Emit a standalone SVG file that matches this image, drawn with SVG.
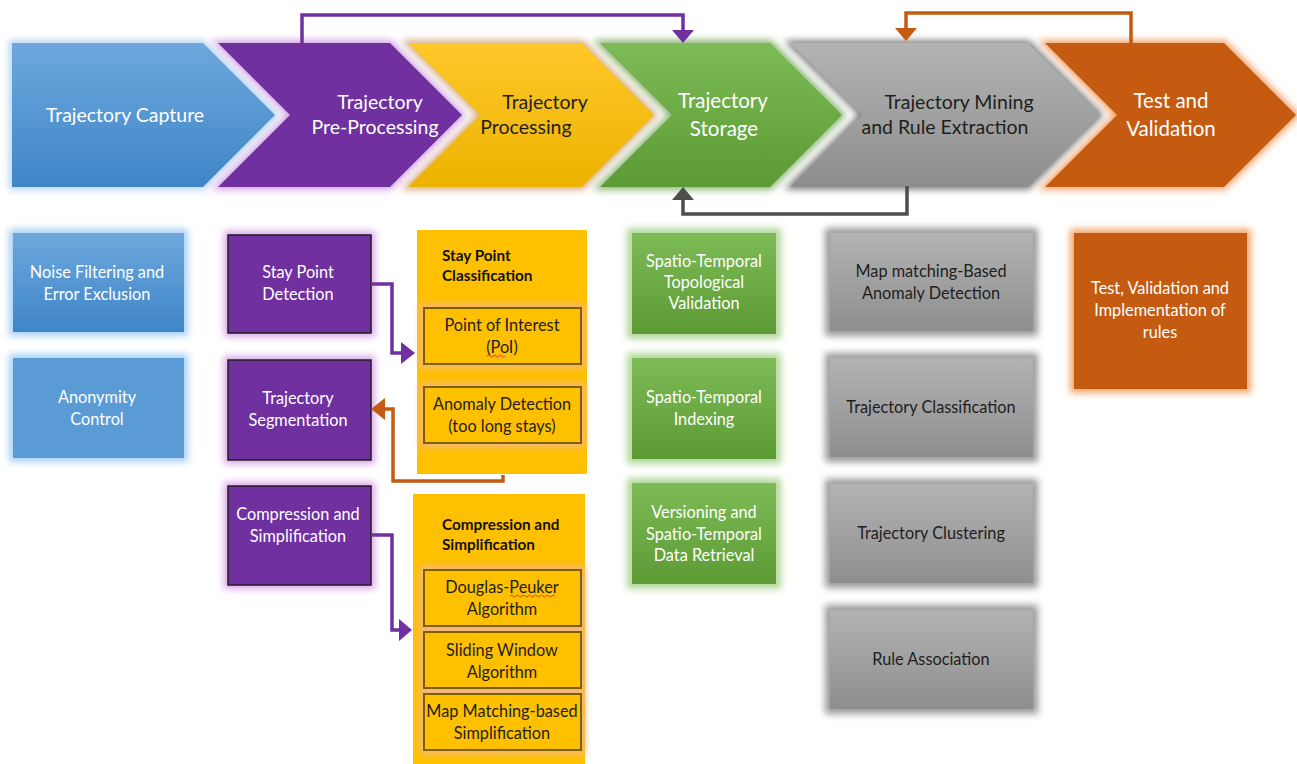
<svg xmlns="http://www.w3.org/2000/svg" width="1297" height="764" viewBox="0 0 1297 764">
<defs>
<filter id="blur" x="-20%" y="-20%" width="140%" height="140%"><feGaussianBlur stdDeviation="3.5"/></filter>
<linearGradient id="gBlue" x1="0" y1="0" x2="0" y2="1"><stop offset="0" stop-color="#6ea7dd"/><stop offset="1" stop-color="#3e86c7"/></linearGradient>
<linearGradient id="gYel" x1="0" y1="0" x2="0" y2="1"><stop offset="0" stop-color="#ffc72a"/><stop offset="1" stop-color="#ecb300"/></linearGradient>
<linearGradient id="gGrn" x1="0" y1="0" x2="0" y2="1"><stop offset="0" stop-color="#7cbb55"/><stop offset="1" stop-color="#5c9b34"/></linearGradient>
<linearGradient id="gGry" x1="0" y1="0" x2="0" y2="1"><stop offset="0" stop-color="#b3b3b3"/><stop offset="1" stop-color="#8e8e8e"/></linearGradient>
<style>
text{font-family:Lato,"Open Sans","Liberation Sans",sans-serif;text-anchor:middle}
.ch{font-size:19.5px}
.big{font-size:20.5px}
.bx{font-size:16.3px}
.w{fill:#ffffff}
.k{fill:#1e1e1e}
.ttl{font-size:15.3px;font-weight:bold;text-anchor:start;fill:#111}
.glow{filter:url(#blur)}
.inner{fill:#ffc000;stroke:#7f6000;stroke-width:2}
.conn{fill:none;stroke-width:3.5;stroke-linejoin:miter}
</style>
</defs>
<rect width="1297" height="764" fill="#ffffff"/>

<g id="chevron-capture">
<path class="glow" d="M12,43 H203 L275,115 L203,187 H12 Z" fill="#b9d6f1" stroke="#b9d6f1" stroke-width="6"/>
<path d="M12,43 H203 L275,115 L203,187 H12 Z" fill="url(#gBlue)"/>
<text class="ch w" x="125" y="122">Trajectory Capture</text>
</g>
<g id="chevron-preprocessing">
<path class="glow" d="M218,43 H390 L462,115 L390,187 H218 L290,115 Z" fill="#d5a6e6" stroke="#d5a6e6" stroke-width="6"/>
<path d="M218,43 H390 L462,115 L390,187 H218 L290,115 Z" fill="#7030a0"/>
<text class="ch w" x="380" y="109">Trajectory</text>
<text class="ch w" x="375" y="134">Pre-Processing</text>
</g>
<g id="chevron-processing">
<path class="glow" d="M408,43 H582 L654,115 L582,187 H408 L480,115 Z" fill="#d9b08a" stroke="#d9b08a" stroke-width="6"/>
<path d="M408,43 H582 L654,115 L582,187 H408 L480,115 Z" fill="url(#gYel)"/>
<text class="ch k" x="545" y="109">Trajectory</text>
<text class="ch k" x="526" y="134">Processing</text>
</g>
<g id="chevron-storage">
<path class="glow" d="M600,43 H770 L842,115 L770,187 H600 L672,115 Z" fill="#8fb877" stroke="#8fb877" stroke-width="6"/>
<path d="M600,43 H770 L842,115 L770,187 H600 L672,115 Z" fill="url(#gGrn)"/>
<text class="big w" x="723" y="108">Trajectory</text>
<text class="big w" x="724" y="136">Storage</text>
</g>
<g id="chevron-mining">
<path class="glow" d="M790,43 H1028 L1100,115 L1028,187 H790 L862,115 Z" fill="#7a7a7a" stroke="#7a7a7a" stroke-width="5"/>
<path d="M790,43 H1028 L1100,115 L1028,187 H790 L862,115 Z" fill="url(#gGry)"/>
<text class="ch k" x="959" y="109">Trajectory Mining</text>
<text class="ch k" x="945" y="134">and Rule Extraction</text>
</g>
<g id="chevron-test">
<path class="glow" d="M1045,43 H1224 L1296,115 L1224,187 H1045 L1117,115 Z" fill="#f1a46c" stroke="#f1a46c" stroke-width="6"/>
<path d="M1045,43 H1224 L1296,115 L1224,187 H1045 L1117,115 Z" fill="#c55a11"/>
<text class="big w" x="1171" y="108">Test and</text>
<text class="big w" x="1171" y="136">Validation</text>
</g>

<g id="box-noise">
<rect class="glow" x="9" y="229" width="179" height="107" fill="#a9d0f5"/>
<rect x="13" y="233" width="171" height="99" fill="url(#gBlue)"/>
<text class="bx w" x="97" y="278">Noise Filtering and</text>
<text class="bx w" x="97" y="300">Error Exclusion</text>
</g>
<g id="box-anonymity">
<rect class="glow" x="9" y="354" width="179" height="108" fill="#a9d0f5"/>
<rect x="13" y="358" width="171" height="100" fill="#5b9bd5"/>
<text class="bx w" x="97" y="403">Anonymity</text>
<text class="bx w" x="97" y="425">Control</text>
</g>

<g id="box-staypoint">
<rect class="glow" x="224" y="231" width="151" height="106" fill="#d9a8e8"/>
<rect x="228" y="235" width="143" height="98" fill="#7030a0" stroke="#1f1f1f" stroke-width="1.5"/>
<text class="bx w" x="298" y="278">Stay Point</text>
<text class="bx w" x="298" y="300">Detection</text>
</g>
<g id="box-segmentation">
<rect class="glow" x="224" y="356" width="151" height="108" fill="#d9a8e8"/>
<rect x="228" y="360" width="143" height="100" fill="#7030a0" stroke="#1f1f1f" stroke-width="1.5"/>
<text class="bx w" x="298" y="404">Trajectory</text>
<text class="bx w" x="298" y="426">Segmentation</text>
</g>
<g id="box-compression">
<rect class="glow" x="224" y="482" width="151" height="107" fill="#d9a8e8"/>
<rect x="228" y="486" width="143" height="99" fill="#7030a0" stroke="#1f1f1f" stroke-width="1.5"/>
<text class="bx w" x="298" y="520">Compression and</text>
<text class="bx w" x="298" y="542">Simplification</text>
</g>

<g id="box-staypoint-classification">
<rect x="417" y="230" width="170" height="244" fill="#ffc000"/>
<text class="ttl" x="442" y="261">Stay Point</text>
<text class="ttl" x="442" y="281">Classification</text>
<g id="box-poi">
<rect class="glow" x="420" y="304" width="165" height="64" fill="#f4b77e"/>
<rect class="inner" x="424" y="308" width="157" height="56"/>
<text class="bx k" x="502" y="331">Point of Interest</text>
<text class="bx k" x="502" y="353">(PoI)</text>
<path d="M487,356 q1.5,-2 3,0 t3,0 t3,0 t3,0 t3,0 t3,0" fill="none" stroke="#e03030" stroke-width="0.9"/>
</g>
<g id="box-anomaly">
<rect class="glow" x="420" y="383" width="165" height="64" fill="#f4b77e"/>
<rect class="inner" x="424" y="387" width="157" height="56"/>
<text class="bx k" x="502" y="410">Anomaly Detection</text>
<text class="bx k" x="502" y="432">(too long stays)</text>
</g>
</g>

<g id="box-compression-simplification">
<rect x="413" y="494" width="172" height="270" fill="#ffc000"/>
<text class="ttl" x="442" y="530">Compression and</text>
<text class="ttl" x="442" y="550">Simplification</text>
<g id="box-douglas">
<rect class="glow" x="420" y="566" width="165" height="188" fill="#f4b77e"/>
<rect class="inner" x="424" y="570" width="157" height="56"/>
<text class="bx k" x="502" y="593">Douglas-Peuker</text>
<text class="bx k" x="502" y="615">Algorithm</text>
<path d="M510,596 q1.5,-2 3,0 t3,0 t3,0 t3,0 t3,0 t3,0 t3,0 t3,0 t3,0 t3,0 t3,0 t3,0 t3,0 t3,0 t3,0" fill="none" stroke="#e03030" stroke-width="0.9"/>
</g>
<g id="box-sliding">
<rect class="inner" x="424" y="632" width="157" height="56"/>
<text class="bx k" x="502" y="656">Sliding Window</text>
<text class="bx k" x="502" y="678">Algorithm</text>
</g>
<g id="box-mapmatching-simpl">
<rect class="inner" x="424" y="694" width="157" height="56"/>
<text class="bx k" x="502" y="717">Map Matching-based</text>
<text class="bx k" x="502" y="739">Simplification</text>
</g>
</g>

<g id="box-topological">
<rect class="glow" x="627" y="228" width="154" height="111" fill="#b3d89d"/>
<rect x="632" y="233" width="144" height="101" fill="url(#gGrn)"/>
<text class="bx w" x="704" y="267">Spatio-Temporal</text>
<text class="bx w" x="704" y="288">Topological</text>
<text class="bx w" x="704" y="309">Validation</text>
</g>
<g id="box-indexing">
<rect class="glow" x="627" y="353" width="154" height="111" fill="#b3d89d"/>
<rect x="632" y="358" width="144" height="101" fill="url(#gGrn)"/>
<text class="bx w" x="704" y="403">Spatio-Temporal</text>
<text class="bx w" x="704" y="425">Indexing</text>
</g>
<g id="box-versioning">
<rect class="glow" x="627" y="478" width="154" height="111" fill="#b3d89d"/>
<rect x="632" y="483" width="144" height="101" fill="url(#gGrn)"/>
<text class="bx w" x="704" y="518">Versioning and</text>
<text class="bx w" x="704" y="540">Spatio-Temporal</text>
<text class="bx w" x="704" y="561">Data Retrieval</text>
</g>

<g id="box-mapmatching-anomaly">
<rect class="glow" x="825" y="228" width="213" height="108" fill="#9a9a9a"/>
<rect x="830" y="233" width="203" height="98" fill="url(#gGry)"/>
<text class="bx k" x="931" y="277">Map matching-Based</text>
<text class="bx k" x="931" y="299">Anomaly Detection</text>
</g>
<g id="box-classification">
<rect class="glow" x="825" y="353" width="213" height="109" fill="#9a9a9a"/>
<rect x="830" y="358" width="203" height="99" fill="url(#gGry)"/>
<text class="bx k" x="931" y="413">Trajectory Classification</text>
</g>
<g id="box-clustering">
<rect class="glow" x="825" y="479" width="213" height="109" fill="#9a9a9a"/>
<rect x="830" y="484" width="203" height="99" fill="url(#gGry)"/>
<text class="bx k" x="931" y="539">Trajectory Clustering</text>
</g>
<g id="box-rule-association">
<rect class="glow" x="825" y="605" width="213" height="109" fill="#9a9a9a"/>
<rect x="830" y="610" width="203" height="99" fill="url(#gGry)"/>
<text class="bx k" x="931" y="665">Rule Association</text>
</g>

<g id="box-test-validation">
<rect class="glow" x="1070" y="229" width="181" height="164" fill="#f2a46a"/>
<rect x="1074" y="233" width="173" height="156" fill="#c55a11"/>
<text class="bx w" x="1160" y="294">Test, Validation and</text>
<text class="bx w" x="1160" y="316">Implementation of</text>
<text class="bx w" x="1160" y="338">rules</text>
</g>

<g id="connectors">
<path class="conn" stroke="#7030a0" d="M302,44 V15 H683 V31"/>
<polygon fill="#7030a0" points="672,30 694,30 683,43"/>
<path class="conn" stroke="#c55a11" d="M1131,44 V13 H906 V29"/>
<polygon fill="#c55a11" points="895,28 917,28 906,41"/>
<path class="conn" stroke="#4d4d4d" d="M907,186 V214 H683 V199"/>
<polygon fill="#4d4d4d" points="672,200 694,200 683,187"/>
<path class="conn" stroke="#7030a0" d="M371,284 H392 V353 H402"/>
<polygon fill="#7030a0" points="401,342 401,364 415,353"/>
<path class="conn" stroke="#c55a11" d="M503,475 V481 H393 V409 H384"/>
<polygon fill="#c55a11" points="385,398 385,420 371,409"/>
<path class="conn" stroke="#7030a0" d="M371,535 H392 V630 H400"/>
<polygon fill="#7030a0" points="399,619 399,641 412,630"/>
</g>
</svg>
